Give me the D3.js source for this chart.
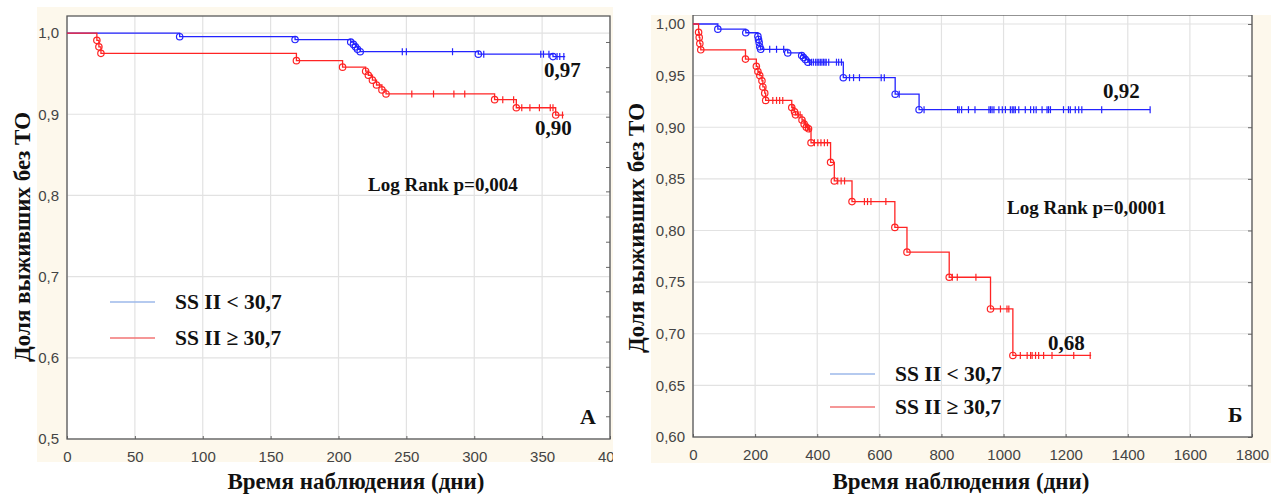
<!DOCTYPE html>
<html>
<head>
<meta charset="utf-8">
<script src="https://cdn.jsdelivr.net/npm/d3@7"></script>
<style>
  body { margin: 0; background: #fff; }
  .tick-label { font-family: "Liberation Sans", Arial, sans-serif; font-size: 15px; fill: #444; }
  .serif { font-family: "Liberation Serif", "Times New Roman", serif; font-weight: bold; fill: #111; }
</style>
</head>
<body>
<script>
// ---- Data ----

// Panel A: follow-up up to 400 days
var timesA_low = [83, 168, 209, 211, 212.5, 214, 216, 303, 358];
var survA_low  = [0.9955, 0.992, 0.989, 0.986, 0.983, 0.980, 0.977, 0.974, 0.971];
var censA_low  = [247, 250, 284, 307, 349, 351, 355, 361, 363, 366];
var endA_low = 367;

var timesA_high = [22, 23.5, 25, 169, 203, 220, 222, 225, 228, 232, 235, 315, 331, 360];
var survA_high  = [0.991, 0.983, 0.975, 0.966, 0.958, 0.953, 0.948, 0.942, 0.936, 0.930, 0.925, 0.918, 0.908, 0.899];
var censA_high  = [254, 270, 285, 293, 321, 329, 335, 341, 348, 356, 358, 365];
var endA_high = 366;

// Panel Б: follow-up up to 1800 days
var timesB_low = [80, 170, 209, 211, 213, 215, 218, 305, 350, 356, 362, 370, 484, 651, 728];
var survB_low  = [0.995, 0.9915, 0.988, 0.985, 0.982, 0.978, 0.9755, 0.972, 0.9695, 0.9675, 0.9655, 0.963, 0.948, 0.932, 0.917];
var censB_low  = [247, 269, 292, 375, 382, 388, 395, 400, 405, 410, 415, 420, 425, 429, 437, 462, 469, 478,
                  504, 517, 536, 606, 616, 664, 744, 852, 857, 865, 887, 908, 953, 958, 963, 969, 985, 996,
                  1006, 1022, 1028, 1033, 1038, 1049, 1070, 1087, 1097, 1105, 1124, 1140, 1145, 1151,
                  1193, 1209, 1215, 1231, 1242, 1252, 1316, 1472];
var endB_low = 1472;

var timesB_high = [18, 20, 22, 25, 169, 204, 209, 215, 222, 225, 231, 234, 318, 327, 330, 351, 358, 365, 372,
                   380, 443, 455, 512, 650, 689, 825, 958, 1030];
var survB_high  = [0.992, 0.987, 0.981, 0.975, 0.966, 0.959, 0.954, 0.950, 0.945, 0.939, 0.933, 0.926, 0.919,
                   0.915, 0.912, 0.907, 0.903, 0.900, 0.8985, 0.885, 0.866, 0.848, 0.828, 0.803, 0.779, 0.7547,
                   0.724, 0.679];
var censB_high  = [257, 269, 279, 289, 322, 338, 345, 362, 368, 370, 375, 391, 402, 412, 423, 433, 466, 477, 488,
                   552, 562, 573, 621, 835, 851, 911, 990, 1011, 1017, 1054, 1076, 1087, 1092, 1103, 1113, 1129,
                   1156, 1226, 1279];
var endB_high = 1282;

// Axis ticks
var xTicksA = [0, 50, 100, 150, 200, 250, 300, 350, 400];
var yTicksA = [0.5, 0.6, 0.7, 0.8, 0.9, 1.0];
var rightTicksA = [0.989, 0.958, 0.928, 0.897, 0.866, 0.835, 0.805, 0.774, 0.743, 0.712, 0.682, 0.651, 0.620, 0.589, 0.559, 0.528];
var xTicksB = [0, 200, 400, 600, 800, 1000, 1200, 1400, 1600, 1800];
var yTicksB = [0.60, 0.65, 0.70, 0.75, 0.80, 0.85, 0.90, 0.95, 1.00];

var legendLabels = ["SS II < 30,7", "SS II \u2265 30,7"];
var yTitle = "Доля выживших без ТО";
var xTitle = "Время наблюдения (дни)";

var blue = "#2323ff", red = "#ff2424";

var svg = d3.select("body").append("svg").attr("width", 1271).attr("height", 495);

var locale = d3.formatLocale({ decimal: ",", thousands: " ", grouping: [3], currency: ["", ""] });

function drawPanel(p) {
  var g = svg.append("g");
  var clipId = "clip" + p.id;
  svg.append("clipPath").attr("id", clipId).append("rect")
    .attr("x", p.bg[0]).attr("y", p.bg[1]).attr("width", p.bg[2]).attr("height", p.bg[3]);
  g.attr("clip-path", "url(#" + clipId + ")");

  // beige panel background, white plot area
  g.append("rect").attr("x", p.bg[0]).attr("y", p.bg[1]).attr("width", p.bg[2]).attr("height", p.bg[3])
    .attr("fill", "#fdf8ec");
  g.append("rect").attr("x", p.x0).attr("y", p.y0).attr("width", p.x1 - p.x0).attr("height", p.y1 - p.y0)
    .attr("fill", "#fff");

  var x = d3.scaleLinear().domain(p.xDomain).range([p.x0, p.x1]);
  var y = d3.scaleLinear().domain(p.yDomain).range([p.y1, p.y0]);

  // grid
  g.append("g").selectAll("line").data(p.xTicks).enter().append("line")
    .attr("x1", d => x(d)).attr("x2", d => x(d)).attr("y1", p.y0).attr("y2", p.y1)
    .attr("stroke", "#e2e2e2").attr("stroke-width", 1.2);
  g.append("g").selectAll("line").data(p.yTicks).enter().append("line")
    .attr("x1", p.x0).attr("x2", p.x1).attr("y1", d => y(d)).attr("y2", d => y(d))
    .attr("stroke", "#e2e2e2").attr("stroke-width", 1.2);

  // axes
  var bottomAxis = d3.axisBottom(x).tickValues(p.xTicks).tickSize(-3).tickPadding(9).tickFormat(d3.format("d"));
  var leftAxis = d3.axisLeft(y).tickValues(p.yTicks).tickSize(0).tickPadding(8).tickFormat(locale.format(p.yFmt));
  var rightAxis = d3.axisRight(y).tickValues(p.rightTicks).tickSize(-4).tickFormat("");

  var gb = g.append("g").attr("transform", `translate(0, ${p.y1})`).call(bottomAxis);
  var gl = g.append("g").attr("transform", `translate(${p.x0}, 0)`).call(leftAxis);
  var gr = g.append("g").attr("transform", `translate(${p.x1}, 0)`).call(rightAxis);
  [gb, gl, gr].forEach(function(a) {
    a.select(".domain").remove();
    a.selectAll(".tick line").attr("stroke", "#666");
    a.selectAll(".tick text").attr("class", "tick-label").attr("font-family", null).attr("font-size", null);
  });
  gb.selectAll(".tick text").attr("dy", "0.9em");

  // frame
  g.append("rect").attr("x", p.x0).attr("y", p.y0).attr("width", p.x1 - p.x0).attr("height", p.y1 - p.y0)
    .attr("fill", "none").attr("stroke", "#5a5a5a").attr("stroke-width", 1.3);

  // survival curves
  var line = d3.line().x(d => x(d.t)).y(d => y(d.s)).curve(d3.curveStepAfter);
  p.series.forEach(function(s) {
    var pts = [{ t: 0, s: 1 }];
    s.times.forEach(function(t, i) { pts.push({ t: t, s: s.surv[i] }); });
    pts.push({ t: s.end, s: s.surv[s.surv.length - 1] });

    g.append("path").attr("d", line(pts)).attr("fill", "none")
      .attr("stroke", s.color).attr("stroke-width", 1.3);

    var stepAt = function(t) {
      var v = 1;
      s.times.forEach(function(tt, i) { if (tt <= t) v = s.surv[i]; });
      return v;
    };
    g.append("g").selectAll("line").data(s.cens).enter().append("line")
      .attr("x1", d => x(d)).attr("x2", d => x(d))
      .attr("y1", d => y(stepAt(d)) - 3.5).attr("y2", d => y(stepAt(d)) + 3.5)
      .attr("stroke", s.color).attr("stroke-width", 1.2);

    g.append("g").selectAll("circle").data(s.times).enter().append("circle")
      .attr("cx", d => x(d)).attr("cy", (d, i) => y(s.surv[i])).attr("r", 3.2)
      .attr("fill", "none").attr("stroke", s.color).attr("stroke-width", 1.2);
  });

  // legend
  var lg = g.append("g");
  legendLabels.forEach(function(lab, i) {
    var ly = p.legend[1] + i * p.legend[2];
    lg.append("line").attr("x1", p.legend[0]).attr("x2", p.legend[0] + 45).attr("y1", ly).attr("y2", ly)
      .attr("stroke", i === 0 ? "#9db8ea" : "#f27474").attr("stroke-width", 1.6);
    lg.append("text").attr("class", "serif").attr("x", p.legend[0] + 65).attr("y", ly + 7)
      .style("font-size", "21.5px").text(lab);
  });

  // annotations
  p.notes.forEach(function(n) {
    g.append("text").attr("class", "serif").attr("x", n[0]).attr("y", n[1])
      .style("font-size", n[3] + "px").text(n[2]);
  });

  // axis titles
  svg.append("text").attr("class", "serif").attr("text-anchor", "middle")
    .attr("transform", `translate(${p.yTitle[0]}, ${p.yTitle[1]}) rotate(-90)`)
    .style("font-size", "23px").text(yTitle);
  svg.append("text").attr("class", "serif").attr("text-anchor", "middle")
    .attr("x", p.xTitle[0]).attr("y", p.xTitle[1])
    .style("font-size", "23px").text(xTitle);
}

drawPanel({
  id: "A", bg: [37, 7, 576, 455],
  x0: 67, x1: 610, y0: 16, y1: 439,
  xDomain: [0, 400], yDomain: [0.5, 1.021],
  xTicks: xTicksA, yTicks: yTicksA, rightTicks: rightTicksA, yFmt: ".1f",
  series: [
    { times: timesA_low, surv: survA_low, cens: censA_low, end: endA_low, color: blue },
    { times: timesA_high, surv: survA_high, cens: censA_high, end: endA_high, color: red }
  ],
  legend: [110, 302, 36],
  notes: [[544, 77, "0,97", 21], [535, 135, "0,90", 21], [368, 191, "Log Rank p=0,004", 19], [580, 424, "А", 22]],
  yTitle: [30, 237], xTitle: [356, 489]
});

drawPanel({
  id: "B", bg: [651, 15, 620, 448],
  x0: 693, x1: 1252, y0: 15, y1: 437,
  xDomain: [0, 1800], yDomain: [0.6, 1.0087],
  xTicks: xTicksB, yTicks: yTicksB, rightTicks: yTicksB, yFmt: ".2f",
  series: [
    { times: timesB_low, surv: survB_low, cens: censB_low, end: endB_low, color: blue },
    { times: timesB_high, surv: survB_high, cens: censB_high, end: endB_high, color: red }
  ],
  legend: [830, 374, 33],
  notes: [[1103, 98, "0,92", 21], [1048, 350, "0,68", 21], [1007, 214, "Log Rank p=0,0001", 19], [1228, 422, "Б", 22]],
  yTitle: [644, 228], xTitle: [961, 489]
});
</script>
</body>
</html>
